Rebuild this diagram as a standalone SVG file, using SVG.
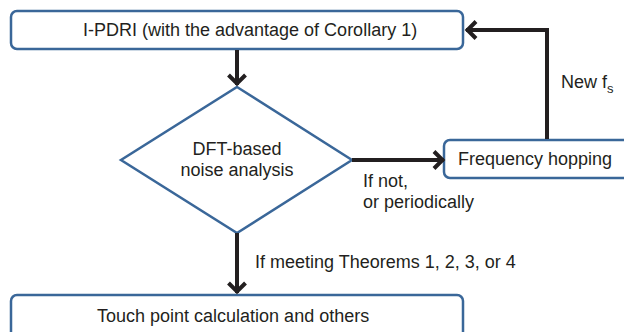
<svg xmlns="http://www.w3.org/2000/svg" width="624" height="332" viewBox="0 0 624 332">
<style>
.box{fill:#fff;stroke:#3a6799;stroke-width:2.5}
.t{font-family:"Liberation Sans",Arial,sans-serif;font-size:18px;fill:#231f20}
.c{fill:none;stroke:#231f20;stroke-width:4}
</style>
<defs>
<marker id="ah" markerUnits="userSpaceOnUse" viewBox="-14 -12 18 24" refX="0" refY="0" markerWidth="18" markerHeight="24" orient="auto">
<path d="M-10,-8.5 L-1.5,0 L-10,8.5" fill="none" stroke="#231f20" stroke-width="4"/>
</marker>
</defs>
<rect width="624" height="332" fill="#fff"/>
<g id="n1">
<rect class="box" x="11" y="11" width="452" height="38" rx="6"/>
<text class="t" x="83" y="36">I-PDRI (with the advantage of Corollary 1)</text>
</g>
<g id="n2">
<polygon class="box" points="237,87 352,160 237,233 121,160"/>
<text class="t" x="237" y="155" text-anchor="middle">DFT-based</text>
<text class="t" x="237" y="176" text-anchor="middle">noise analysis</text>
</g>
<g id="n3">
<rect class="box" x="444" y="140" width="200" height="38" rx="6"/>
<text class="t" x="458" y="165">Frequency hopping</text>
</g>
<g id="n4">
<rect class="box" x="11" y="295" width="452" height="50" rx="6"/>
<text class="t" x="97" y="322">Touch point calculation and others</text>
</g>
<g id="connectors">
<path class="c" d="M237,50 V85" marker-end="url(#ah)"/>
<path class="c" d="M352,160 H444" marker-end="url(#ah)"/>
<path class="c" d="M547,139 V30 H466" marker-end="url(#ah)"/>
<path class="c" d="M237,233 V293" marker-end="url(#ah)"/>
<text class="t" x="363" y="187">If not,</text>
<text class="t" x="363" y="208">or periodically</text>
<text class="t" x="561" y="88">New f<tspan font-size="13" dy="5">s</tspan></text>
<text class="t" x="255" y="268">If meeting Theorems 1, 2, 3, or 4</text>
</g>
</svg>
